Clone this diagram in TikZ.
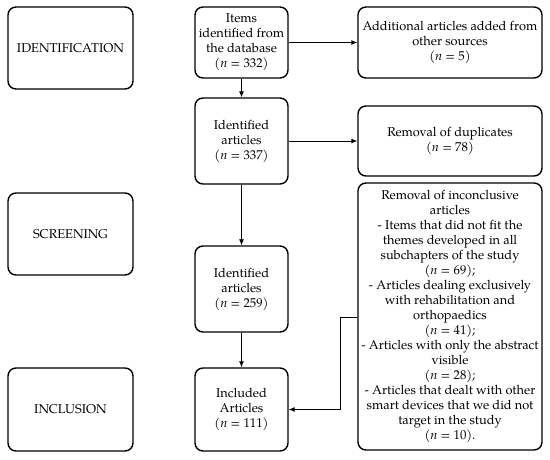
\documentclass[tikz,border=0pt]{standalone}
\usepackage{fontspec}
\setmainfont{TeX Gyre Pagella}
\usetikzlibrary{arrows.meta}
\begin{document}
\begin{tikzpicture}[x=1pt,y=-1pt,
  box/.style={draw, line width=1.4pt, rounded corners=8pt, align=center, inner sep=1pt,
    font=\fontsize{12.8}{15}\selectfont},
  arr/.style={line width=0.9pt, -{Latex[length=6pt,width=5pt]}}]
\useasboundingbox (0,0) rectangle (550,460);
% left stage boxes
\node[box, minimum width=125pt, minimum height=82pt] (ident) at (70.5,48) {IDENTIFICATION};
\node[box, minimum width=125pt, minimum height=82pt] (screen) at (70.5,234) {SCREENING};
\node[box, minimum width=125pt, minimum height=83pt] (incl) at (70.5,409.5) {INCLUSION};
% center column
\node[box, minimum width=93pt, minimum height=71pt] (b1) at (241.5,42.5) {Items\\identified from\\the database\\(\textit{n} = 332)};
\node[box, minimum width=93pt, minimum height=86pt] (b2) at (241.5,141) {Identified\\articles\\(\textit{n} = 337)};
\node[box, minimum width=93pt, minimum height=86pt] (b3) at (241.5,289) {Identified\\articles\\(\textit{n} = 259)};
\node[box, minimum width=93pt, minimum height=83pt] (b4) at (241.5,409.5) {Included\\Articles\\(\textit{n} = 111)};
% right column
\node[box, minimum width=184pt, minimum height=71pt] (r1) at (450,42.5) {Additional articles added from\\other sources\\(\textit{n} = 5)};
\node[box, minimum width=184pt, minimum height=70pt] (r2) at (450,141) {Removal of duplicates\\(\textit{n} = 78)};
\node[box, minimum width=184pt, minimum height=267pt] (r3) at (450,316.5) {Removal of inconclusive\\articles\\- Items that did not fit the\\themes developed in all\\subchapters of the study\\(\textit{n} = 69);\\- Articles dealing exclusively\\with rehabilitation and\\orthopaedics\\(\textit{n} = 41);\\- Articles with only the abstract\\visible\\(\textit{n} = 28);\\- Articles that dealt with other\\smart devices that we did not\\target in the study\\(\textit{n} = 10).};
% connectors
\draw[arr] (b1) -- (b2);
\draw[arr] (b2) -- (b3);
\draw[arr] (b3) -- (b4);
\draw[arr] (b1) -- (r1);
\draw[arr] (b2) -- (r2);
\coordinate (k) at (340,317);
\draw[arr] (r3.west |- k) -- (k) |- (b4.east);
\end{tikzpicture}
\end{document}
